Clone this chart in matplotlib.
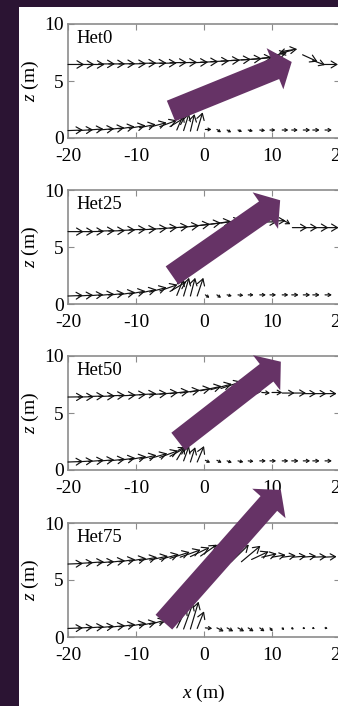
import numpy as np
import matplotlib
matplotlib.use("Agg")
import matplotlib.pyplot as plt
from matplotlib.patches import FancyArrowPatch, Rectangle

plt.rcParams['font.family'] = ['Liberation Serif', 'DejaVu Serif']
plt.rcParams['mathtext.fontset'] = 'custom'
plt.rcParams['mathtext.rm'] = 'Liberation Serif'
plt.rcParams['mathtext.it'] = 'Liberation Serif:italic'
plt.rcParams['font.size'] = 14
plt.rcParams['axes.unicode_minus'] = False

# ---- data -------------------------------------------------------------
panel_names = ['Het0', 'Het25', 'Het50', 'Het75']
x_ticks = [-20, -10, 0, 10, 20]
z_ticks = [0, 5, 10]

# grid of the upper measurement row (m)
x_top = [-20, -18.5, -17, -15.5, -14, -12.5, -11, -9.5, -8, -6.5, -5, -3.5, -2, -0.5,
         1, 2.5, 4, 5.5, 7, 8.5, 10, 11.5, 13, 14.5, 16, 17.5, 19]
# lower row, upstream of the step and downstream of it
x_low_l = [-20, -18.5, -17, -15.5, -14, -12.5, -11, -9.5, -8, -6.5, -5, -4, -3, -2, -1]
x_low_r = [0.2, 1.9, 3.4, 5, 6.5, 8.2, 9.7, 11.5, 12.9, 14.6, 16, 17.8, 19.6, 21]

# Het0
z_top_0 = [6.45, 6.45, 6.45, 6.5, 6.5, 6.5, 6.5, 6.55, 6.55, 6.55, 6.6, 6.6, 6.6, 6.65,
           6.7, 6.75, 6.8, 6.85, 6.9, 7.0, 7.2, 7.6, 7.7, 7.3, 6.8, 6.45, 6.4]
u_top_0 = [2.4, 2.4, 2.4, 2.4, 2.4, 2.4, 2.5, 2.5, 2.5, 2.5, 2.5, 2.5, 2.6, 2.6,
           2.7, 2.8, 2.9, 3.0, 3.0, 2.8, 2.2, 2.2, -2.0, 2.2, 1.8, 2.2, 2.2]
w_top_0 = [0.0, 0.0, 0.0, 0.0, 0.0, 0.02, 0.02, 0.02, 0.03, 0.03, 0.03, 0.04, 0.05, 0.05,
           0.06, 0.08, 0.1, 0.12, 0.15, 0.2, 0.3, 0.2, -0.3, -0.6, -0.4, 0.0, 0.0]
z_ll_0 = [0.65, 0.65, 0.7, 0.7, 0.75, 0.8, 0.85, 0.9, 0.95, 1.0, 1.0, 0.7, 0.65, 0.6, 0.65]
u_ll_0 = [2.2, 2.2, 2.2, 2.3, 2.3, 2.3, 2.4, 2.4, 2.5, 2.5, 2.2, 1.0, 0.8, 0.6, 0.8]
w_ll_0 = [0.05, 0.08, 0.1, 0.12, 0.15, 0.2, 0.25, 0.3, 0.4, 0.55, 0.8, 1.4, 1.5, 1.5, 1.6]
z_lr_0 = [0.75, 0.75, 0.7, 0.7, 0.7, 0.7, 0.7, 0.7, 0.7, 0.7, 0.7, 0.7, 0.7, 0.7]
u_lr_0 = [0.9, 0.6, 0.6, 0.6, 0.7, 0.8, 0.8, 0.9, 0.9, 1.0, 1.0, 1.0, 1.0, 1.0]
w_lr_0 = [0.0, -0.25, -0.2, -0.15, -0.1, -0.05, 0.0, 0.0, 0.0, 0.0, 0.0, 0.0, 0.0, 0.0]

# Het25
z_top_25 = [6.35, 6.35, 6.35, 6.4, 6.4, 6.45, 6.5, 6.5, 6.55, 6.6, 6.65, 6.7, 6.8, 6.9,
            7.0, 7.1, 7.2, 7.3, 7.3, 7.2, 7.3, 7.4, 6.7, 6.7, 6.7, 6.7, 6.7]
u_top_25 = [2.3, 2.3, 2.3, 2.4, 2.4, 2.4, 2.5, 2.5, 2.6, 2.6, 2.7, 2.8, 2.9, 3.0,
            3.0, 3.0, 3.0, 2.8, 2.5, 2.2, 2.0, 1.2, 2.2, 2.2, 2.3, 2.3, 2.3]
w_top_25 = [0.0, 0.0, 0.02, 0.03, 0.04, 0.05, 0.06, 0.08, 0.1, 0.12, 0.15, 0.18, 0.2, 0.22,
            0.25, 0.25, 0.2, 0.1, 0.0, 0.0, 0.0, -0.4, 0.0, 0.0, 0.0, 0.0, 0.0]
z_ll_25 = [0.7, 0.7, 0.72, 0.75, 0.78, 0.82, 0.88, 0.95, 1.05, 1.15, 1.1, 0.75, 0.7, 0.7, 0.7]
u_ll_25 = [2.2, 2.2, 2.2, 2.3, 2.3, 2.4, 2.4, 2.5, 2.5, 2.6, 2.4, 1.0, 0.8, 0.7, 0.9]
w_ll_25 = [0.05, 0.08, 0.1, 0.12, 0.15, 0.2, 0.25, 0.32, 0.4, 0.55, 0.85, 1.5, 1.6, 1.6, 1.6]
z_lr_25 = [0.8, 0.8, 0.8, 0.8, 0.8, 0.8, 0.8, 0.8, 0.8, 0.8, 0.8, 0.8, 0.8, 0.8]
u_lr_25 = [0.6, 0.6, 0.7, 0.8, 0.8, 0.9, 0.9, 0.9, 1.0, 1.0, 1.0, 1.0, 1.0, 1.0]
w_lr_25 = [-0.25, -0.25, -0.1, -0.05, 0.0, 0.0, 0.0, 0.0, 0.0, 0.0, 0.0, 0.0, 0.0, 0.0]

# Het50
z_top_50 = [6.4, 6.4, 6.45, 6.45, 6.5, 6.5, 6.55, 6.6, 6.6, 6.65, 6.7, 6.75, 6.85, 6.95,
            7.05, 7.15, 7.2, 7.0, 6.9, 6.8, 6.8, 6.75, 6.75, 6.7, 6.7, 6.7, 6.7]
u_top_50 = [2.3, 2.3, 2.3, 2.4, 2.4, 2.5, 2.5, 2.5, 2.6, 2.7, 2.8, 2.9, 3.0, 3.1,
            3.1, 3.0, 2.5, 2.0, 1.5, 1.2, 1.5, 1.8, 2.0, 2.0, 2.0, 2.0, 2.0]
w_top_50 = [0.02, 0.03, 0.04, 0.05, 0.06, 0.07, 0.08, 0.1, 0.12, 0.15, 0.2, 0.25, 0.3, 0.4,
            0.5, 0.6, 0.6, 0.3, 0.0, -0.05, 0.0, 0.0, 0.0, 0.0, 0.0, 0.0, 0.0]
z_ll_50 = [0.7, 0.72, 0.75, 0.78, 0.8, 0.85, 0.9, 0.95, 1.0, 1.1, 1.2, 0.9, 0.8, 0.7, 0.7]
u_ll_50 = [2.2, 2.2, 2.3, 2.3, 2.4, 2.4, 2.5, 2.5, 2.6, 2.7, 2.4, 1.2, 0.8, 0.7, 1.0]
w_ll_50 = [0.05, 0.08, 0.1, 0.12, 0.15, 0.2, 0.28, 0.35, 0.45, 0.6, 0.8, 1.2, 1.3, 1.3, 1.4]
z_lr_50 = [0.85, 0.85, 0.8, 0.8, 0.8, 0.8, 0.8, 0.8, 0.8, 0.8, 0.8, 0.8, 0.8, 0.8]
u_lr_50 = [0.7, 0.7, 0.7, 0.8, 0.8, 0.9, 0.9, 0.9, 1.0, 1.0, 1.0, 1.0, 1.0, 1.0]
w_lr_50 = [-0.2, -0.2, -0.15, -0.1, -0.05, 0.0, 0.0, 0.0, 0.0, 0.0, 0.0, 0.0, 0.0, 0.0]

# Het75
z_top_75 = [6.4, 6.45, 6.5, 6.5, 6.55, 6.6, 6.65, 6.7, 6.75, 6.8, 6.9, 7.0, 7.05, 7.1,
            7.1, 6.8, 6.6, 6.6, 6.8, 7.0, 7.0, 7.0, 7.0, 7.0, 7.0, 7.0, 7.0]
u_top_75 = [2.2, 2.2, 2.3, 2.3, 2.4, 2.4, 2.5, 2.6, 2.7, 2.8, 2.9, 3.0, 2.8, 2.4,
            1.5, 1.5, 2.6, 2.8, 2.5, 2.2, 2.0, 2.0, 2.0, 2.0, 2.0, 2.0, 2.0]
w_top_75 = [0.05, 0.08, 0.1, 0.12, 0.15, 0.2, 0.25, 0.3, 0.35, 0.45, 0.55, 0.65, 0.8, 1.0,
            1.1, 1.2, 1.5, 1.4, 0.7, 0.3, 0.2, 0.15, 0.1, 0.1, 0.05, 0.05, 0.05]
z_ll_75 = [0.75, 0.78, 0.8, 0.82, 0.85, 0.9, 0.95, 1.0, 1.1, 1.2, 1.0, 0.8, 0.7, 0.7, 0.75]
u_ll_75 = [2.2, 2.2, 2.3, 2.3, 2.4, 2.4, 2.5, 2.5, 2.4, 2.2, 1.8, 1.5, 1.4, 1.2, 1.0]
w_ll_75 = [0.05, 0.08, 0.1, 0.12, 0.15, 0.2, 0.25, 0.3, 0.4, 0.5, 1.0, 1.8, 2.3, 2.4, 1.5]
z_lr_75 = [0.8, 0.8, 0.8, 0.8, 0.8, 0.8, 0.8, 0.8, 0.8, 0.8, 0.8, 0.8, 0.8, 0.8]
u_lr_75 = [1.0, 1.0, 0.9, 0.9, 0.8, 0.7, 0.4, 0.3, 0.3, 0.3, 0.3, 0.4, 0.5, 0.5]
w_lr_75 = [-0.05, -0.3, -0.3, -0.3, -0.3, -0.3, -0.3, -0.2, -0.15, -0.1, -0.1, -0.05, 0.0, 0.0]

rows = [
    (z_top_0, u_top_0, w_top_0, z_ll_0, u_ll_0, w_ll_0, z_lr_0, u_lr_0, w_lr_0),
    (z_top_25, u_top_25, w_top_25, z_ll_25, u_ll_25, w_ll_25, z_lr_25, u_lr_25, w_lr_25),
    (z_top_50, u_top_50, w_top_50, z_ll_50, u_ll_50, w_ll_50, z_lr_50, u_lr_50, w_lr_50),
    (z_top_75, u_top_75, w_top_75, z_ll_75, u_ll_75, w_ll_75, z_lr_75, u_lr_75, w_lr_75),
]

# big highlight arrows (tail x, tail z, tip x, tip z) in each panel's data units
big_arrows = [(-4.85, 2.37, 12.9, 6.67),
              (-4.7, 2.5, 11.2, 9.1),
              (-3.8, 2.5, 11.3, 9.5),
              (-5.9, 1.3, 11.3, 12.9)]

BG = '#2b1433'
ARROW_PURPLE = '#663366'
SPINE = '#8c8c8c'


def draw_row(ax, xs, zs, us, ws):
    # matlab-quiver look: thin shaft with an open head that scales with length
    for x, z, u, w in zip(xs, zs, us, ws):
        p0 = ax.transData.transform((x, z))
        p1 = ax.transData.transform((x + u, z + w))
        length_px = np.hypot(*(p1 - p0))
        hl = min(0.45, 0.38 * length_px / 13.9)
        hw = hl * 0.6
        ax.annotate('', xy=(x + u, z + w), xytext=(x, z),
                    arrowprops=dict(arrowstyle=f'->,head_length={hl:.3f},head_width={hw:.3f}',
                                    lw=0.85, color='#111111', shrinkA=0, shrinkB=0,
                                    mutation_scale=10))


W, H = 338, 706
fig = plt.figure(figsize=(W / 100, H / 100), dpi=100)
fig.patch.set_facecolor(BG)
fig.add_artist(Rectangle((19 / W, 0), 1, 1 - 7 / H, transform=fig.transFigure,
                         facecolor='white', edgecolor='none', zorder=-5))

tops = [24, 190, 356, 523]
ax_h = 114
axes = []
for i, name in enumerate(panel_names):
    ax = fig.add_axes([68 / W, 1 - (tops[i] + ax_h) / H, 272 / W, ax_h / H])
    ax.set_xlim(-20, 20)
    ax.set_ylim(0, 10)
    ax.set_xticks(x_ticks)
    ax.set_yticks(z_ticks)
    ax.tick_params(direction='in', length=4, width=0.8, color=SPINE, top=True, right=True,
                   labelsize=14, labelcolor='black')
    ax.tick_params(axis='x', pad=7)
    ax.tick_params(axis='y', pad=3)
    for s in ax.spines.values():
        s.set_color(SPINE)
        s.set_linewidth(1.2)
    ax.set_ylabel('$z$ (m)', fontsize=14)
    ax.yaxis.set_label_coords(-0.1, 0.5)
    ax.text(0.03, 0.87, name, transform=ax.transAxes, fontsize=13.5, va='center', ha='left')

    zt, ut, wt, zl, ul, wl, zr, ur, wr = rows[i]
    draw_row(ax, x_top, zt, ut, wt)
    draw_row(ax, x_low_l, zl, ul, wl)
    draw_row(ax, x_low_r, zr, ur, wr)
    axes.append(ax)

axes[-1].set_xlabel('$x$ (m)', fontsize=14)
axes[-1].xaxis.set_label_coords(0.5, -0.40)

# purple arrows sit on top of everything, even the neighbouring panel's labels
for ax, (x0, z0, x1, z1) in zip(axes, big_arrows):
    arr = FancyArrowPatch((x0, z0), (x1, z1), transform=ax.transData,
                          arrowstyle='simple,head_length=13,head_width=32,tail_width=16',
                          mutation_scale=1, shrinkA=0, shrinkB=0,
                          facecolor=ARROW_PURPLE, edgecolor='none', zorder=10)
    fig.add_artist(arr)

fig.savefig('out.png', dpi=100, facecolor=fig.get_facecolor())
